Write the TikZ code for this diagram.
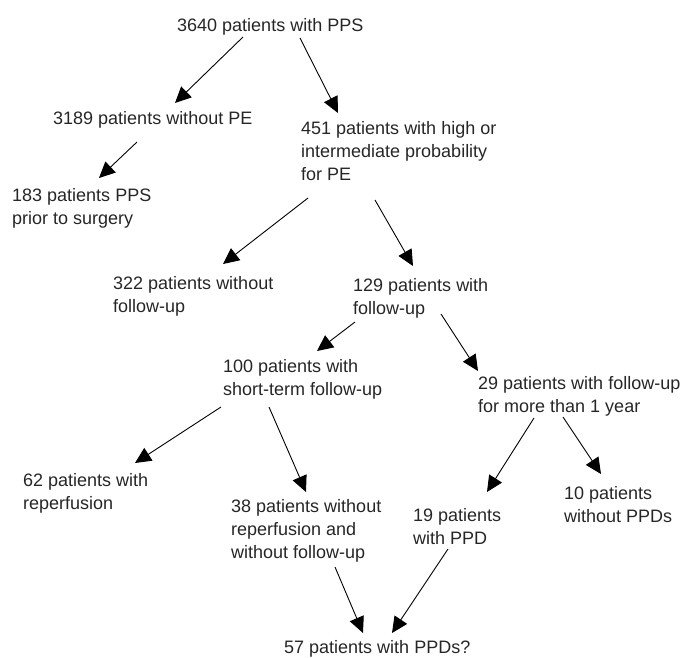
\documentclass[tikz,border=0pt]{standalone}
\usepackage{fontspec}
\setmainfont{Liberation Sans}
\usetikzlibrary{arrows.meta}
\begin{document}
\begin{tikzpicture}[x=1pt,y=-1pt,
  box/.style={anchor=north west,inner sep=0pt,align=left,text=black!85,
    font=\fontsize{18}{23}\selectfont},
  arr/.style={draw=black,line width=0.9pt,-{Triangle[length=16pt,width=15pt]}}]
\useasboundingbox (0,0) rectangle (681,657);
\newcommand{\fs}{\rule{0pt}{14pt}}
\node[box] (n1) at (177,17) {\fs 3640 patients with PPS};
\node[box] (n2) at (53,110) {\fs 3189 patients without PE};
\node[box] (n3) at (301,120) {\fs 451 patients with high or\\intermediate probability\\for PE};
\node[box] (n4) at (12,187) {\fs 183 patients PPS\\prior to surgery};
\node[box] (n5) at (113,275) {\fs 322 patients without\\follow-up};
\node[box] (n6) at (353,277) {\fs 129 patients with\\follow-up};
\node[box] (n7) at (223,358) {\fs 100 patients with\\short-term follow-up};
\node[box] (n8) at (478,375) {\fs 29 patients with follow-up\\for more than 1 year};
\node[box] (n9) at (23,472) {\fs 62 patients with\\reperfusion};
\node[box] (n10) at (231,498) {\fs 38 patients without\\reperfusion and\\without follow-up};
\node[box] (n11) at (413,507) {\fs 19 patients\\with PPD};
\node[box] (n12) at (564,485) {\fs 10 patients\\without PPDs};
\node[box] (n13) at (284,639) {\fs 57 patients with PPDs?};
\draw[arr] ([shift={(66,20)}]n1.north west) -- ([shift={(122,-7)}]n2.north west);
\draw[arr] ([shift={(123,21)}]n1.north west) -- ([shift={(37,-7)}]n3.north west);
\draw[arr] ([shift={(84,32)}]n2.north west) -- ([shift={(87,-9)}]n4.north west);
\draw[arr] ([shift={(7,78)}]n3.north west) -- ([shift={(110,-11)}]n5.north west);
\draw[arr] ([shift={(74,80)}]n3.north west) -- ([shift={(60,-11)}]n6.north west);
\draw[arr] ([shift={(2,45)}]n6.north west) -- ([shift={(94,-7)}]n7.north west);
\draw[arr] ([shift={(88,37)}]n6.north west) -- ([shift={(0,-4)}]n8.north west);
\draw[arr] ([shift={(-2,49)}]n7.north west) -- ([shift={(112,-9)}]n9.north west);
\draw[arr] ([shift={(46,49)}]n7.north west) -- ([shift={(75,-6)}]n10.north west);
\draw[arr] ([shift={(56,43)}]n8.north west) -- ([shift={(74,-15)}]n11.north west);
\draw[arr] ([shift={(85,42)}]n8.north west) -- ([shift={(37,-11)}]n12.north west);
\draw[arr] ([shift={(104,69)}]n10.north west) -- ([shift={(79,-6)}]n13.north west);
\draw[arr] ([shift={(35,42)}]n11.north west) -- ([shift={(108,-6)}]n13.north west);
\end{tikzpicture}
\end{document}
